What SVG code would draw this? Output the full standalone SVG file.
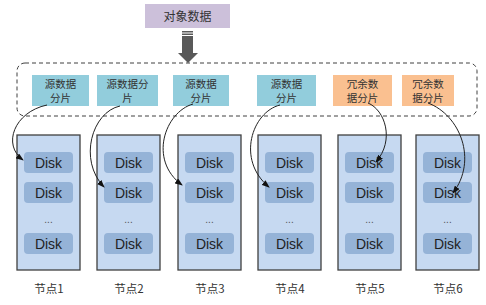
<svg xmlns="http://www.w3.org/2000/svg" width="486" height="305" viewBox="0 0 486 305">
<style>
.cjk{font-family:"Noto Sans CJK SC","Noto Sans",sans-serif;fill:#333;text-anchor:middle}
.st{font-size:10.5px}
.src{fill:#92cddc}
.red{fill:#fac090}
.node{fill:#c6d9f1;stroke:#404040;stroke-width:1.3}
.disk{fill:#95b3d7}
.dt{font-family:"Liberation Sans",Arial,sans-serif;font-size:14px;fill:#1f1f1f;text-anchor:middle}
.dots{font-family:"Liberation Sans",Arial,sans-serif;font-size:10px;fill:#555;text-anchor:middle}
.conn path{fill:none;stroke:#222;stroke-width:1}
</style>
<defs>
<marker id="ah" markerWidth="8" markerHeight="6" refX="7" refY="3" orient="auto" markerUnits="userSpaceOnUse">
<path d="M0,0 L8,3 L0,6 z" fill="#111"/>
</marker>
<g id="disks">
<rect class="disk" x="7" y="17" width="49" height="21" rx="4"/>
<text class="dt" x="31.5" y="33">Disk</text>
<rect class="disk" x="7" y="47" width="49" height="21" rx="4"/>
<text class="dt" x="31.5" y="63">Disk</text>
<text class="dots" x="31.5" y="88">...</text>
<rect class="disk" x="7" y="98" width="49" height="21" rx="4"/>
<text class="dt" x="31.5" y="114">Disk</text>
</g>
</defs>
<g id="object">
<rect x="145" y="4" width="85" height="24" fill="#ccc0da"/>
<text class="cjk" x="187.5" y="20.5" font-size="12">对象数据</text>
</g>
<g id="bigarrow" fill="#595959">
<rect x="182" y="31" width="11" height="1.5"/>
<rect x="182" y="33.5" width="11" height="1.5"/>
<rect x="182" y="36" width="11" height="17"/>
<path d="M178,53 L198,53 L188,63 z"/>
</g>
<g id="group">
<rect x="17" y="63" width="460" height="53" rx="8" fill="none" stroke="#404040" stroke-width="1" stroke-dasharray="4,3"/>
</g>
<g id="s1"><rect class="src" x="32" y="75" width="57" height="31"/><text class="cjk st" x="60.5" y="88">源数据</text><text class="cjk st" x="60.5" y="102">分片</text></g>
<g id="s2"><rect class="src" x="97" y="75" width="61" height="31"/><text class="cjk st" x="127.5" y="88">源数据分</text><text class="cjk st" x="127.5" y="102">片</text></g>
<g id="s3"><rect class="src" x="173" y="75" width="56" height="31"/><text class="cjk st" x="201" y="88">源数据</text><text class="cjk st" x="201" y="102">分片</text></g>
<g id="s4"><rect class="src" x="257" y="75" width="59" height="31"/><text class="cjk st" x="286.5" y="88">源数据</text><text class="cjk st" x="286.5" y="102">分片</text></g>
<g id="r1"><rect class="red" x="333" y="75" width="59" height="31"/><text class="cjk st" x="362.5" y="88">冗余数</text><text class="cjk st" x="362.5" y="102">据分片</text></g>
<g id="r2"><rect class="red" x="402" y="75" width="52" height="31"/><text class="cjk st" x="428" y="88">冗余数</text><text class="cjk st" x="428" y="102">据分片</text></g>
<g id="n1"><rect class="node" x="17" y="135" width="63" height="135"/><use href="#disks" x="17" y="135"/><text class="cjk" font-size="11.5" x="49" y="293">节点1</text></g>
<g id="n2"><rect class="node" x="97" y="135" width="63" height="135"/><use href="#disks" x="97" y="135"/><text class="cjk" font-size="11.5" x="129" y="293">节点2</text></g>
<g id="n3"><rect class="node" x="178" y="135" width="63" height="135"/><use href="#disks" x="178" y="135"/><text class="cjk" font-size="11.5" x="210" y="293">节点3</text></g>
<g id="n4"><rect class="node" x="258" y="135" width="63" height="135"/><use href="#disks" x="258" y="135"/><text class="cjk" font-size="11.5" x="290" y="293">节点4</text></g>
<g id="n5"><rect class="node" x="338" y="135" width="63" height="135"/><use href="#disks" x="338" y="135"/><text class="cjk" font-size="11.5" x="370" y="293">节点5</text></g>
<g id="n6"><rect class="node" x="416" y="135" width="63" height="135"/><use href="#disks" x="416" y="135"/><text class="cjk" font-size="11.5" x="448" y="293">节点6</text></g>
<g id="connectors" class="conn">
<path d="M47,105 C14,112 2,145 23,160" marker-end="url(#ah)"/>
<path d="M120,106 C92,112 78,160 104,187" marker-end="url(#ah)"/>
<path d="M193,104 C165,112 148,160 182,185" marker-end="url(#ah)"/>
<path d="M280,105 C252,112 236,160 269,187" marker-end="url(#ah)"/>
<path d="M368,103 C385,110 395,140 376,162" marker-end="url(#ah)"/>
<path d="M428,103 C460,115 478,160 453,193" marker-end="url(#ah)"/>
</g>
</svg>
